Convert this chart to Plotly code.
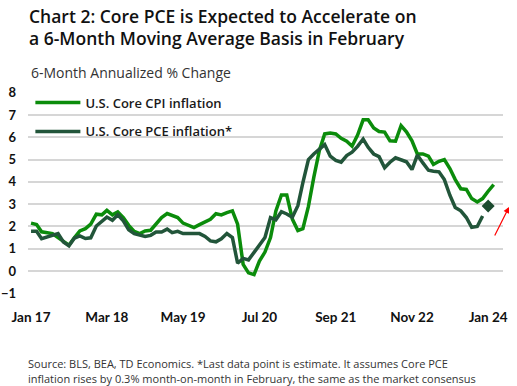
import pandas as pd
import plotly.graph_objects as go

months = pd.date_range("2017-01-01", periods=86, freq="MS")

core_cpi = [2.15, 2.09, 1.76, 1.73, 1.68, 1.50, 1.35, 1.16, 1.50, 1.80, 1.90, 2.10,
            2.55, 2.52, 2.72, 2.52, 2.65, 2.40, 2.05, 1.78, 1.68, 1.80, 1.83, 2.10,
            2.40, 2.58, 2.48, 2.40, 2.15, 2.05, 1.95, 2.08, 2.20, 2.32, 2.57, 2.52,
            2.62, 2.70, 2.10, 0.30, -0.08, -0.16, 0.45, 0.85, 1.50, 2.70, 3.41, 3.41,
            2.33, 1.82, 1.90, 2.90, 4.20, 5.40, 6.15, 6.19, 6.15, 5.95, 5.82, 5.60,
            6.10, 6.78, 6.78, 6.42, 6.26, 6.23, 5.84, 5.82, 6.52, 6.24, 5.84, 5.25,
            5.25, 5.15, 4.78, 4.92, 5.00, 4.60, 4.10, 3.69, 3.66, 3.25, 3.10, 3.25,
            3.58, 3.88]

core_pce = [1.78, 1.78, 1.45, 1.53, 1.62, 1.68, 1.30, 1.13, 1.48, 1.58, 1.46, 1.49,
            2.02, 2.25, 2.42, 2.28, 2.52, 2.25, 1.85, 1.68, 1.60, 1.55, 1.60, 1.75,
            1.75, 1.88, 1.72, 1.78, 1.68, 1.68, 1.68, 1.68, 1.55, 1.35, 1.31, 1.45,
            1.68, 1.50, 0.35, 0.57, 0.50, 0.85, 1.15, 1.50, 2.40, 2.30, 2.66, 2.56,
            2.41, 2.93, 3.96, 5.00, 5.25, 5.47, 5.67, 5.15, 4.96, 4.88, 5.18, 5.33,
            5.59, 5.92, 5.55, 5.25, 5.13, 4.63, 4.88, 5.08, 4.98, 4.90, 4.55, 5.20,
            4.85, 4.52, 4.48, 4.45, 4.10, 3.40, 2.85, 2.70, 2.40, 1.96, 2.00, 2.47]

pce_estimate = [2.92]

tick_labels = ["Jan 17", "Mar 18", "May 19", "Jul 20", "Sep 21", "Nov 22", "Jan 24"]
tick_dates = [months[i] for i in range(0, 85, 14)]
y_ticks = [-1, 0, 1, 2, 3, 4, 5, 6, 7, 8]

CPI_COLOR = "#0B8C0B"
PCE_COLOR = "#22553A"
FONT = "Lato"
TFONT = "Open Sans"

fig = go.Figure()
fig.add_trace(go.Scatter(x=months, y=core_cpi, mode="lines", name="U.S. Core CPI inflation",
                         line=dict(color=CPI_COLOR, width=3.5), legendgroup="a"))
fig.add_trace(go.Scatter(x=months[:len(core_pce)], y=core_pce, mode="lines",
                         name="U.S. Core PCE inflation*",
                         line=dict(color=PCE_COLOR, width=3.5), legendgroup="b"))
fig.add_trace(go.Scatter(x=[months[len(core_pce)]], y=pce_estimate, mode="markers",
                         marker=dict(symbol="diamond", size=10, color="#1B4A2E"),
                         showlegend=False))

fig.update_layout(
    width=517, height=386,
    margin=dict(l=28, r=14, t=92, b=92, autoexpand=False),
    plot_bgcolor="white", paper_bgcolor="white",
    font=dict(family=FONT, color="#111111"),
    showlegend=True,
    legend=dict(x=0.005, y=1.022, xanchor="left", yanchor="top", bgcolor="rgba(0,0,0,0)",
                font=dict(family=TFONT, size=13, color="#1A1A1A", weight=600), traceorder="grouped",
                tracegroupgap=9, itemwidth=45),
    xaxis=dict(range=[months[0] - pd.Timedelta(days=17), months[85] + pd.Timedelta(days=52)],
               tickvals=tick_dates, ticktext=tick_labels, showgrid=False, zeroline=False,
               showline=False, ticks="", tickfont=dict(size=13.5, weight="bold", color="#111111"),
               ticklabelstandoff=13, automargin=False),
    yaxis=dict(range=[-1.03, 8.03], tickvals=y_ticks, showgrid=True, gridcolor="#D6D6D6",
               gridwidth=2, zeroline=False, showline=False, ticks="",
               tickfont=dict(size=13, weight="bold", color="#111111"), ticklabelstandoff=11,
               automargin=False),
)

def px(xp, yp):
    return (xp - 28) / 475, (294 - yp) / 202

ann = []
x0, y0 = px(27, 16.5)
ann.append(dict(x=x0, y=y0, xref="paper", yref="paper", xanchor="left", yanchor="middle",
                text="Chart 2: Core PCE is Expected to Accelerate on", showarrow=False,
                font=dict(family=TFONT, size=17.5, weight=600, color="#111111")))
x0, y0 = px(27, 38)
ann.append(dict(x=x0, y=y0, xref="paper", yref="paper", xanchor="left", yanchor="middle",
                text="a 6-Month Moving Average Basis in February", showarrow=False,
                font=dict(family=TFONT, size=17.5, weight=600, color="#111111")))
x0, y0 = px(29, 73)
ann.append(dict(x=x0, y=y0, xref="paper", yref="paper", xanchor="left", yanchor="middle",
                text="6-Month Annualized % Change", showarrow=False,
                font=dict(family=TFONT, size=14, color="#333333")))
x0, y0 = px(26, 363)
ann.append(dict(x=x0, y=y0, xref="paper", yref="paper", xanchor="left", yanchor="middle",
                text="Source: BLS, BEA, TD Economics. *Last data point is estimate. It assumes Core PCE",
                showarrow=False, font=dict(family=TFONT, size=11, color="#333333")))
x0, y0 = px(26, 378)
ann.append(dict(x=x0, y=y0, xref="paper", yref="paper", xanchor="left", yanchor="middle",
                text="inflation rises by 0.3% month-on-month in February, the same as the market consensus",
                showarrow=False, font=dict(family=TFONT, size=11, color="#333333")))
x0, y0 = px(509, 207)
ann.append(dict(x=x0, y=y0, xref="paper", yref="paper", text="", showarrow=True,
                arrowhead=2, arrowsize=1, arrowwidth=1.2, arrowcolor="#FF0000",
                ax=-15, ay=30))
fig.update_layout(annotations=ann)

fig.write_html("out.html", config={"displayModeBar": False},
               post_script="document.body.style.margin='0';")
